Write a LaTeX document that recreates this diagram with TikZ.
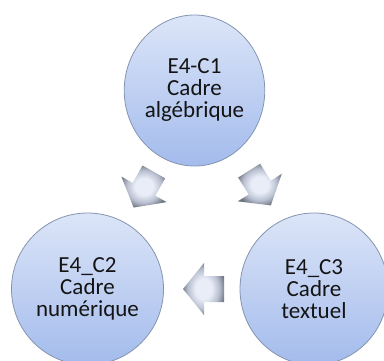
\documentclass[tikz,border=0pt]{standalone}
\usepackage{fontspec}
\setmainfont{Carlito}
\usetikzlibrary{shapes.geometric}
\definecolor{ctop}{HTML}{DCE5F8}
\definecolor{cbot}{HTML}{A3BBEC}
\definecolor{cedge}{HTML}{8495B0}
\definecolor{arrin}{HTML}{E9EDF8}
\definecolor{arrmid}{HTML}{B9C0D0}
\definecolor{arrout}{HTML}{6E7480}
\pgfdeclareradialshading{arrsh}{\pgfpoint{0bp}{0bp}}{color(0bp)=(arrin); color(10bp)=(arrin); color(19bp)=(arrmid); color(27bp)=(arrout); color(50bp)=(arrout)}
\newcommand\circfont{\fontsize{23}{22}\selectfont}
\begin{document}
\begin{tikzpicture}[x=1pt,y=-1pt,
  frame/.style={ellipse, draw=cedge, line width=0.8pt, top color=ctop, bottom color=cbot,
    inner sep=0pt, align=center, font=\circfont, text=black!92},
  blockarrow/.style={shade, shading=arrsh},
  barrow/.pic={\path[blockarrow] (20.5,0) -- (-0.5,26) -- (-0.5,13) -- (-20.5,13)
     -- (-20.5,-13) -- (-0.5,-13) -- (-0.5,-26) -- cycle;}]
\useasboundingbox (0,0) rectangle (384,360);
\node[frame, minimum width=140, minimum height=151] (c1) at (194.5,90.5) {E4-C1\\Cadre\\algébrique};
\node[frame, minimum width=152, minimum height=152] (c2) at (87.5,289) {E4\_C2\\Cadre\\numérique};
\node[frame, minimum width=148, minimum height=152] (c3) at (314,289) {E4\_C3\\Cadre\\textuel};
\pic[rotate=240.5] (a1) at (143.75,189.75) {barrow};
\pic[rotate=302] (a2) at (260,188) {barrow};
\pic[rotate=180] (a3) at (203.5,289) {barrow};
\end{tikzpicture}
\end{document}
